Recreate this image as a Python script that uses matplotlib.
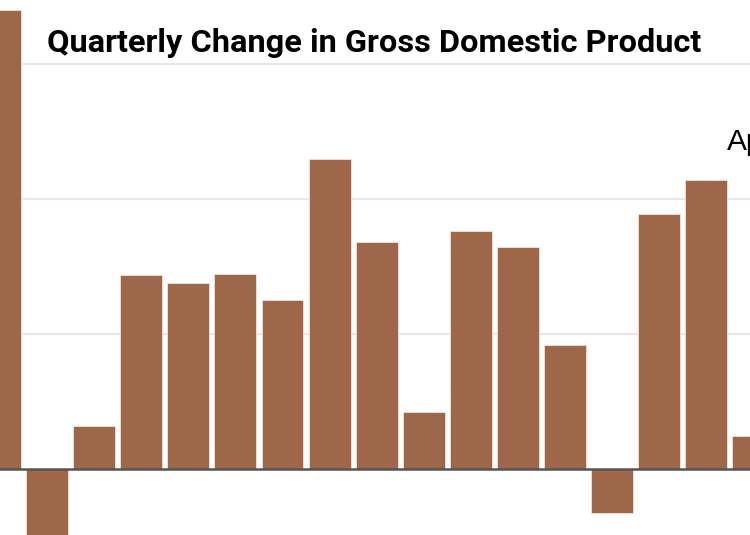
import matplotlib
matplotlib.use("Agg")
import matplotlib.pyplot as plt

# quarterly change in GDP, percent
quarters = list(range(17))
change = [6.8, -1.1, 0.63, 2.88, 2.76, 2.89, 2.50, 4.59, 3.36, 0.84,
          3.53, 3.29, 1.84, -0.65, 3.78, 4.28, 0.49]
grid_vals = [2, 4, 6]

title = "Quarterly Change in Gross Domestic Product"
note = "April"

bar_color = "#9f6749"

fig = plt.figure(figsize=(7.5, 5.35), dpi=100)
ax = fig.add_axes([0, 0, 1, 1])

for g in grid_vals:
    ax.axhline(g, color="#e8e8e8", lw=1.6, zorder=0)

ax.bar(quarters, change, width=0.89, color=bar_color,
       edgecolor="#f3e2da", linewidth=0.6, zorder=2)
ax.axhline(0, color="#555555", lw=1.8, zorder=3)

ax.set_xlim(0, 15.93)
ax.set_ylim(-0.978, 6.948)
ax.axis("off")

fig.text(47 / 750, 1 - 52 / 535, title, fontsize=23.4, fontweight="bold",
         family=["Roboto", "DejaVu Sans"], va="baseline", ha="left")
fig.text(727 / 750, 1 - 150 / 535, note, fontsize=21.5,
         family=["Liberation Sans", "DejaVu Sans"], va="baseline", ha="left")

fig.savefig("out.png", dpi=100)
